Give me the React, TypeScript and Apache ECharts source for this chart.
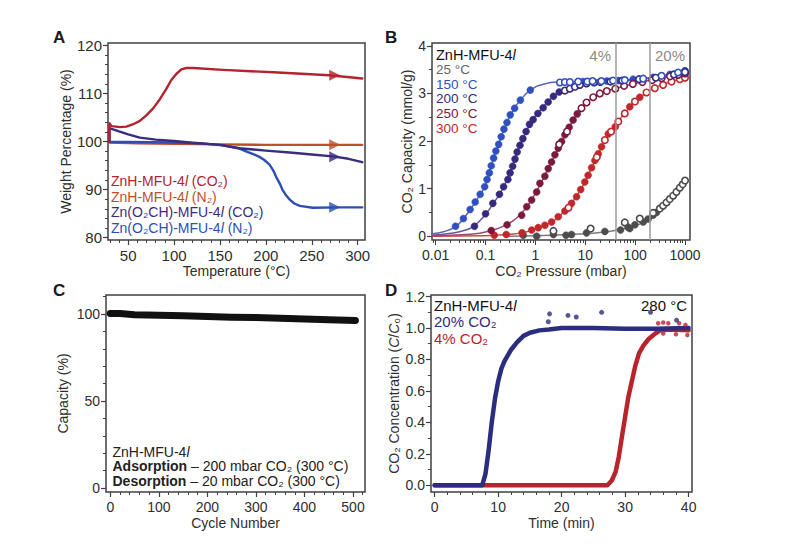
import React, { useEffect, useRef } from "react";
import * as echarts from "echarts";

const FONT = "'Liberation Sans', Arial, Helvetica, sans-serif";
const TXT = "#2e2e2e";
const FRAME = "#404040";

// ---------- Panel A : TGA ----------
const A_X_TICKS = [50, 100, 150, 200, 250, 300];
const A_Y_TICKS = [80, 90, 100, 110, 120];
const A_RED = [[29.5, 100], [29.5, 103.8], [32, 103.2], [41, 103], [48, 103.1], [55.5, 103.6], [62.7, 104.3], [70, 105.5], [77.2, 106.9], [84.5, 108.8], [91.7, 111], [97, 112.8], [102.6, 114.1], [108, 115], [113.4, 115.3], [121, 115.3], [153, 114.9], [208, 114.4], [269, 113.8], [305, 113.1]];
const A_ORANGE = [[29.5, 99.8], [60, 99.6], [100, 99.5], [150, 99.4], [200, 99.3], [305, 99.3]];
const A_PURPLE = [[29.5, 100], [29.5, 102.8], [40, 102.1], [50, 101.5], [62.7, 100.8], [80, 100.4], [100, 100.1], [117, 99.8], [150, 99.3], [171, 98.6], [200, 98.1], [226, 97.7], [250, 97.3], [273, 96.9], [290, 96.4], [305, 95.7]];
const A_BLUE = [[29.5, 102.3], [29.5, 99.9], [50, 99.9], [100, 99.8], [130, 99.6], [153, 99.2], [170, 98.6], [179, 97.9], [187, 97.3], [193, 96.8], [198, 96.2], [204, 95.2], [208, 94], [211, 92.7], [215, 91.3], [218, 90], [222, 88.8], [226, 87.9], [231, 87.1], [237, 86.6], [251, 86.2], [280, 86.3], [305, 86.3]];
const A_ARROWS = [[275, 113.8], [275, 99.3], [275, 96.85], [275, 86.3]];

// ---------- Panel B : isotherms ----------
const B_X_LABELS = ["0.01", "0.1", "1", "10", "100", "1000"];
const B_Y_TICKS = [0, 1, 2, 3, 4];
const B_VLINES = [40, 200];
const B_P25_FILLED = [[0.57, 0.02], [1.06, 0.0], [2.3, 0.035], [4.1, 0.02], [5.3, 0.035], [10.6, 0.07], [24.7, 0.1], [51, 0.13], [72, 0.19], [78, 0.16], [99, 0.24], [145, 0.3], [182, 0.36], [229, 0.44], [268, 0.5]];
const B_P25_OPEN = [[2.3, 0.11], [12.8, 0.16], [62, 0.29], [124, 0.37], [229, 0.49], [313, 0.58], [364, 0.64], [426, 0.71], [496, 0.78], [578, 0.85], [674, 0.93], [787, 1.02], [900, 1.09], [1000, 1.17]];
const B_25_FIT = [[0.3, 0.0], [1, 0.01], [10, 0.05], [30, 0.1], [60, 0.16], [100, 0.22], [200, 0.37], [400, 0.66], [700, 0.95], [1000, 1.17]];
const B_P150_FILLED = [[0.025, 0.21], [0.036, 0.37], [0.049, 0.56], [0.062, 0.72], [0.078, 0.88], [0.096, 1.04], [0.107, 1.19], [0.119, 1.33], [0.13, 1.48], [0.145, 1.64], [0.161, 1.79], [0.183, 1.93], [0.206, 2.09], [0.234, 2.25], [0.269, 2.39], [0.313, 2.55], [0.383, 2.69], [0.5, 2.86], [0.79, 3.07], [9, 3.25], [27, 3.26], [46, 3.27], [91, 3.3], [229, 3.34], [500, 3.4], [1000, 3.48]];
const B_P150_OPEN = [[3.1, 3.23], [3.9, 3.24], [4.9, 3.24], [7.2, 3.25], [11, 3.25], [14, 3.26], [21, 3.26], [36, 3.27], [62, 3.28], [145, 3.31], [338, 3.37], [727, 3.44]];
const B_150_FIT = [[0.0085, 0.05], [0.015, 0.1], [0.025, 0.2], [0.036, 0.37], [0.05, 0.57], [0.07, 0.8], [0.1, 1.08], [0.13, 1.48], [0.16, 1.78], [0.2, 2.05], [0.27, 2.4], [0.38, 2.69], [0.5, 2.86], [0.8, 3.07], [1.5, 3.2], [3, 3.24], [10, 3.25], [30, 3.27], [100, 3.3], [300, 3.36], [1000, 3.48]];
const B_P200_FILLED = [[0.06, 0.21], [0.1, 0.47], [0.14, 0.69], [0.19, 0.88], [0.23, 1.04], [0.28, 1.19], [0.31, 1.33], [0.35, 1.47], [0.39, 1.62], [0.43, 1.77], [0.49, 1.91], [0.56, 2.05], [0.65, 2.2], [0.76, 2.35], [0.9, 2.45], [1.12, 2.58], [1.43, 2.7], [1.8, 2.82], [2.3, 2.94], [3.0, 3.03]];
const B_P200_OPEN = [[3.9, 3.06], [4.9, 3.1], [6.2, 3.14], [7.8, 3.18], [10.6, 3.21], [15, 3.23], [20, 3.24], [32, 3.25], [55, 3.27], [120, 3.3], [260, 3.33], [600, 3.4], [1000, 3.45]];
const B_200_FIT = [[0.0085, 0.02], [0.02, 0.06], [0.04, 0.13], [0.06, 0.22], [0.1, 0.46], [0.15, 0.72], [0.2, 0.92], [0.3, 1.3], [0.43, 1.77], [0.6, 2.12], [0.9, 2.46], [1.4, 2.7], [2.3, 2.94], [4, 3.07], [8, 3.18], [20, 3.24], [100, 3.29], [400, 3.36], [1000, 3.45]];
const B_P250_FILLED = [[0.13, 0.12], [0.27, 0.24], [0.53, 0.44], [0.67, 0.62], [0.84, 0.76], [1.06, 0.93], [1.23, 1.11], [1.55, 1.26], [1.81, 1.42], [2.11, 1.56], [2.46, 1.71], [2.87, 1.85], [3.35, 1.99], [3.9, 2.13], [4.75, 2.29], [5.7, 2.44], [6.9, 2.57]];
const B_P250_OPEN = [[3.0, 1.93], [4.3, 2.2], [8.4, 2.69], [10.6, 2.81], [14.4, 2.92], [19.6, 3.0], [27, 3.05], [40, 3.1], [60, 3.16], [90, 3.2], [140, 3.24], [220, 3.28], [340, 3.32], [500, 3.36], [730, 3.39], [1000, 3.42]];
const B_250_FIT = [[0.0085, 0.01], [0.05, 0.04], [0.13, 0.12], [0.27, 0.25], [0.5, 0.46], [0.84, 0.77], [1.2, 1.05], [1.8, 1.42], [2.5, 1.72], [3.5, 2.02], [5, 2.33], [7, 2.58], [10, 2.78], [15, 2.93], [25, 3.04], [50, 3.13], [100, 3.21], [300, 3.31], [1000, 3.42]];
const B_P300_FILLED = [[0.15, 0.02], [0.26, 0.035], [0.54, 0.07], [0.84, 0.13], [1.14, 0.18], [1.55, 0.23], [2.11, 0.3], [2.87, 0.41], [3.9, 0.53], [5.3, 0.69], [6.7, 0.83], [8.1, 0.98], [9.8, 1.14], [11.4, 1.28], [13.4, 1.44], [15.6, 1.59], [18.2, 1.73], [21.2, 1.88], [29, 2.15], [40, 2.3], [78, 2.72], [124, 2.92]];
const B_P300_OPEN = [[4.6, 0.6], [17, 1.66], [24.7, 2.02], [33, 2.2], [46, 2.41], [62, 2.58], [99, 2.83], [169, 3.02], [248, 3.11], [364, 3.18], [537, 3.25], [787, 3.3], [1000, 3.33]];
const B_300_FIT = [[0.0085, 0.0], [0.1, 0.01], [0.3, 0.04], [0.6, 0.08], [1, 0.15], [2, 0.28], [3, 0.42], [5, 0.66], [8, 0.97], [12, 1.33], [18, 1.72], [25, 2.02], [40, 2.33], [60, 2.57], [100, 2.83], [170, 3.02], [300, 3.16], [550, 3.25], [1000, 3.33]];

// ---------- Panel C : cycling ----------
const C_X_TICKS = [0, 100, 200, 300, 400, 500];
const C_Y_TICKS = [0, 50, 100];
const C_CAPACITY = [[0, 100.4], [20, 100.3], [50, 99.7], [100, 99.3], [150, 99.0], [200, 98.6], [250, 98.2], [300, 98.0], [350, 97.6], [400, 97.2], [450, 96.8], [505, 96.4]];

// ---------- Panel D : breakthrough ----------
const D_X_TICKS = [0, 10, 20, 30, 40];
const D_Y_TICKS = [0, 0.2, 0.4, 0.6, 0.8, 1.0, 1.2];
const D_Y_LABELS = ["0.0", "0.2", "0.4", "0.6", "0.8", "1.0", "1.2"];
const D_CO2_20 = [[0, 0], [7.5, 0], [8, 0.07], [8.5, 0.22], [9, 0.4], [9.5, 0.55], [10, 0.66], [10.5, 0.74], [11, 0.79], [12, 0.86], [13, 0.91], [14, 0.95], [15, 0.97], [16.5, 0.985], [18, 0.99], [20, 1.0], [25, 1.0], [30, 0.995], [35, 0.995], [40, 1.0]];
const D_CO2_4 = [[0, 0], [27.2, 0], [27.9, 0.03], [28.5, 0.085], [29, 0.18], [29.5, 0.31], [30, 0.435], [30.5, 0.56], [31.1, 0.67], [31.6, 0.76], [32.2, 0.84], [32.9, 0.89], [33.7, 0.93], [34.8, 0.966], [35.5, 0.985], [37, 0.99], [40, 0.985]];
const D_CO2_20_OUT = [[17.9, 1.04], [18.1, 1.09], [21, 1.08], [22.3, 1.07], [26.3, 1.1], [34, 1.1], [38.1, 1.05]];
const D_CO2_4_OUT = [[35.2, 1.03], [36, 1.035], [36.8, 1.03], [38.5, 1.03], [39.5, 1.02], [36, 0.965], [38, 0.96], [39.8, 0.955]];

// colors
const A_RED_C = "#b4232e", A_ORANGE_C = "#bf4e2b", A_PURPLE_C = "#3b2c7e", A_BLUE_C = "#2c4fb4";
const G25 = "#4d4d4d", C150 = "#3150c0", C200 = "#36297e", C250 = "#7a1a3e", C300 = "#c0282c";
const D_NAVY = "#2b2d7e", D_RED = "#b8242c";

// axis ranges (frame)
const A_X = [28, 308], A_Y = [79.5, 120.5];
const B_X = [0.00843, 1260], B_Y = [-0.08, 4.06];
const C_X = [-8.8, 524.7], C_Y = [-2.3, 111];
const D_X = [-0.57, 40.53], D_Y = [-0.043, 1.21];

function steps(from: number, to: number, step: number, skip: number[]) {
  const out: number[] = [];
  for (let v = from; v <= to + 1e-9; v += step) {
    const r = Math.round(v * 1000) / 1000;
    if (!skip.some((s) => Math.abs(s - r) < 1e-9)) out.push(r);
  }
  return out;
}

const tickStyle = { color: FRAME, width: 1.2 };

function mainAxis(grid: number, pos: string, range: number[], ticks: number[], name: any, nameGap: number, fmt?: any, rich?: any, labelSize = 14) {
  return {
    type: "value", gridIndex: grid, position: pos, min: range[0], max: range[1],
    splitLine: { show: false },
    axisLine: { show: false, onZero: false },
    axisTick: { show: true, inside: false, length: 5, customValues: ticks, lineStyle: tickStyle },
    axisLabel: { show: true, customValues: ticks, margin: pos === "bottom" ? 8 : 6, color: TXT, fontSize: labelSize, fontFamily: FONT, formatter: fmt },
    name, nameLocation: "middle", nameGap,
    nameTextStyle: { color: TXT, fontSize: 14, fontFamily: FONT, rich },
  };
}
function helperAxis(grid: number, pos: string, range: number[], ticks: number[], len: number) {
  return {
    type: "value", gridIndex: grid, position: pos, min: range[0], max: range[1],
    splitLine: { show: false },
    axisLine: { show: false, onZero: false },
    axisTick: { show: true, inside: false, length: len, customValues: ticks, lineStyle: { color: FRAME, width: 1 } },
    axisLabel: { show: false },
  };
}

const L10 = (v: number) => Math.log10(v);
const B_MAJOR_LOG = [-2, -1, 0, 1, 2, 3];
const B_MINOR_LOG: number[] = [];
for (let d = -3; d <= 3; d++) for (let k = 2; k <= 9; k++) {
  const v = k * Math.pow(10, d);
  if (v > B_X[0] && v < B_X[1]) B_MINOR_LOG.push(L10(v));
}

const xAxes: any[] = [
  // A: 0,1
  mainAxis(0, "bottom", A_X, A_X_TICKS, "Temperature (°C)", 24, undefined, undefined, 15),
  helperAxis(0, "bottom", A_X, steps(30, 300, 10, A_X_TICKS), 3),
  // B: 2 (log main), 3 (major ticks), 4 (minor ticks)
  {
    type: "log", logBase: 10, gridIndex: 1, position: "bottom", min: B_X[0], max: B_X[1],
    splitLine: { show: false }, axisLine: { show: false, onZero: false }, axisTick: { show: false },
    axisLabel: {
      showMinLabel: false, showMaxLabel: false, margin: 8, color: TXT, fontSize: 14, fontFamily: FONT,
      formatter: (v: number) => { const e = Math.log10(v); const r = Math.round(e); return Math.abs(e - r) < 1e-6 ? (B_X_LABELS[r + 2] ?? "") : ""; },
    },
    name: "CO₂ Pressure (mbar)", nameLocation: "middle", nameGap: 24,
    nameTextStyle: { color: TXT, fontSize: 14, fontFamily: FONT },
  },
  helperAxis(1, "bottom", [L10(B_X[0]), L10(B_X[1])], B_MAJOR_LOG, 5),
  helperAxis(1, "bottom", [L10(B_X[0]), L10(B_X[1])], B_MINOR_LOG, 3),
  // C: 5,6
  mainAxis(2, "bottom", C_X, C_X_TICKS, "Cycle Number", 24),
  helperAxis(2, "bottom", C_X, steps(20, 520, 20, C_X_TICKS), 3),
  // D: 7,8
  mainAxis(3, "bottom", D_X, D_X_TICKS, "Time (min)", 24),
  helperAxis(3, "bottom", D_X, steps(2, 40, 2, D_X_TICKS), 3),
];

const yAxes: any[] = [
  // A: 0,1
  mainAxis(0, "left", A_Y, A_Y_TICKS, "Weight Percentage (%)", 35, undefined, undefined, 15),
  helperAxis(0, "left", A_Y, steps(80, 120, 2, A_Y_TICKS), 3),
  // B: 2,3
  mainAxis(1, "left", B_Y, B_Y_TICKS, "CO₂ Capacity (mmol/g)", 18),
  helperAxis(1, "left", B_Y, [0.5, 1.5, 2.5, 3.5], 3),
  // C: 4,5
  mainAxis(2, "left", C_Y, C_Y_TICKS, "Capacity (%)", 36),
  helperAxis(2, "left", C_Y, steps(10, 110, 10, C_Y_TICKS), 3),
  // D: 6,7
  mainAxis(3, "left", D_Y, D_Y_TICKS, "CO₂ Concentration ({i|C}/{i|C}₀)", 30,
    (v: number) => { const i = D_Y_TICKS.findIndex((t) => Math.abs(t - v) < 1e-9); return i >= 0 ? D_Y_LABELS[i] : ""; },
    { i: { fontStyle: "italic", fontSize: 14, fontFamily: FONT, color: TXT } }),
  helperAxis(3, "left", D_Y, [0.1, 0.3, 0.5, 0.7, 0.9, 1.1], 3),
];

const lineS = (x: number, y: number, data: number[][], color: string, width: number, extra: any = {}) => ({
  type: "line", xAxisIndex: x, yAxisIndex: y, data, showSymbol: false, symbol: "none",
  lineStyle: { color, width, cap: "round", join: "round" }, itemStyle: { color }, z: 2, silent: true, ...extra,
});
const filledS = (data: number[][], color: string) => ({
  type: "scatter", xAxisIndex: 2, yAxisIndex: 2, data, symbol: "circle", symbolSize: 7,
  itemStyle: { color, borderColor: color, borderWidth: 0.5, opacity: 1 }, z: 3, silent: true,
});
const openS = (data: number[][], color: string) => ({
  type: "scatter", xAxisIndex: 2, yAxisIndex: 2, data, symbol: "circle", symbolSize: 6.5,
  itemStyle: { color: "#ffffff", borderColor: color, borderWidth: 1.6, opacity: 1 }, z: 4, silent: true,
});

const series: any[] = [
  // A
  lineS(0, 0, A_ORANGE, A_ORANGE_C, 2.4),
  lineS(0, 0, A_BLUE, A_BLUE_C, 2.4),
  lineS(0, 0, A_PURPLE, A_PURPLE_C, 2.4),
  lineS(0, 0, A_RED, A_RED_C, 2.4),
  {
    type: "scatter", xAxisIndex: 0, yAxisIndex: 0, symbol: "triangle", symbolSize: [11, 11], symbolRotate: -90, z: 5, silent: true,
    data: [
      { value: A_ARROWS[0], itemStyle: { color: A_RED_C } },
      { value: A_ARROWS[1], itemStyle: { color: A_ORANGE_C } },
      { value: A_ARROWS[2], itemStyle: { color: A_PURPLE_C } },
      { value: A_ARROWS[3], itemStyle: { color: A_BLUE_C } },
    ],
  },
  // B fits
  lineS(2, 2, B_25_FIT, "#7c7c7c", 1.5, {
    smooth: true,
    markLine: {
      silent: true, symbol: "none", label: { show: false },
      lineStyle: { color: "#9b9b9b", width: 1.5, type: "solid" },
      data: B_VLINES.map((v) => ({ xAxis: v })),
    },
  }),
  lineS(2, 2, B_300_FIT, "#c94a4a", 1.5, { smooth: true }),
  lineS(2, 2, B_250_FIT, "#9c4a6c", 1.5, { smooth: true }),
  lineS(2, 2, B_200_FIT, "#6c5399", 1.5, { smooth: true }),
  lineS(2, 2, B_150_FIT, "#5d62b8", 1.5, { smooth: true }),
  // B markers
  filledS(B_P25_FILLED, G25), openS(B_P25_OPEN, G25),
  filledS(B_P300_FILLED, C300), openS(B_P300_OPEN, C300),
  filledS(B_P250_FILLED, C250), openS(B_P250_OPEN, C250),
  filledS(B_P200_FILLED, C200), openS(B_P200_OPEN, C200),
  filledS(B_P150_FILLED, C150), openS(B_P150_OPEN, C150),
  // C
  lineS(5, 4, C_CAPACITY, "#111111", 7),
  // D
  lineS(7, 6, D_CO2_4, D_RED, 4.5),
  lineS(7, 6, D_CO2_20, D_NAVY, 4.5),
  { type: "scatter", xAxisIndex: 7, yAxisIndex: 6, data: D_CO2_4_OUT, symbolSize: 4.5, itemStyle: { color: D_RED }, z: 3, silent: true },
  { type: "scatter", xAxisIndex: 7, yAxisIndex: 6, data: D_CO2_20_OUT, symbolSize: 5, itemStyle: { color: D_NAVY }, z: 3, silent: true },
];

const txt = (x: number, y: number, text: string, fill: string, size: number, extra: any = {}) => ({
  type: "text", x, y, silent: true, z: 100,
  style: {
    text, fill, fontSize: size, fontFamily: FONT, align: "left", textAlign: "left",
    verticalAlign: "middle", textVerticalAlign: "middle", ...extra,
  },
});
const italicRich = (fill: string, size: number, lh?: number) => ({ i: { fontStyle: "italic", fill, fontSize: size, fontFamily: FONT, lineHeight: lh } });

const B_FS = 13.5;
const B_LH = 14.8;
const graphics: any[] = [
  // panel letters
  txt(53, 37, "A", "#1a1a1a", 17, { fontWeight: "bold" }),
  txt(385, 37, "B", "#1a1a1a", 17, { fontWeight: "bold" }),
  txt(53, 290, "C", "#1a1a1a", 17, { fontWeight: "bold" }),
  txt(385, 290, "D", "#1a1a1a", 17, { fontWeight: "bold" }),
  // A legend
  txt(111, 181, "ZnH-MFU-4{i|l} (CO₂)", A_RED_C, 14, { rich: italicRich(A_RED_C, 14) }),
  txt(111, 196.5, "ZnH-MFU-4{i|l} (N₂)", A_ORANGE_C, 14, { rich: italicRich(A_ORANGE_C, 14) }),
  txt(111, 212, "Zn(O₂CH)-MFU-4{i|l} (CO₂)", A_PURPLE_C, 14, { rich: italicRich(A_PURPLE_C, 14) }),
  txt(111, 227.5, "Zn(O₂CH)-MFU-4{i|l} (N₂)", A_BLUE_C, 14, { rich: italicRich(A_BLUE_C, 14) }),
  // B annotations
  txt(436, 54.5, "ZnH-MFU-4{i|l}", "#111111", 14.5, { lineHeight: 14, rich: italicRich("#111111", 14.5, 14) }),
  txt(436, 54.5 + B_LH, "25 °C", "#666666", B_FS, { lineHeight: 13.5 }),
  txt(436, 54.5 + 2 * B_LH, "150 °C", C150, B_FS, { lineHeight: 13.5 }),
  txt(436, 54.5 + 3 * B_LH, "200 °C", C200, B_FS, { lineHeight: 13.5 }),
  txt(436, 54.5 + 4 * B_LH, "250 °C", C250, B_FS, { lineHeight: 13.5 }),
  txt(436, 54.5 + 5 * B_LH, "300 °C", C300, B_FS, { lineHeight: 13.5 }),
  txt(611, 55, "4%", "#8a8a8a", 15, { align: "right", textAlign: "right" }),
  txt(685, 55, "20%", "#8a8a8a", 15, { align: "right", textAlign: "right" }),
  // C annotations
  txt(112.5, 451.5, "ZnH-MFU-4{i|l}", "#222222", 14, { lineHeight: 14, rich: italicRich("#222222", 14, 14) }),
  txt(112.5, 466, "{b|Adsorption} – 200 mbar CO₂ (300 °C)", "#222222", 14, { lineHeight: 14, rich: { b: { fontWeight: "bold", fill: "#222222", fontSize: 14, fontFamily: FONT, lineHeight: 14 } } }),
  txt(112.5, 480.5, "{b|Desorption} – 20 mbar CO₂ (300 °C)", "#222222", 14, { lineHeight: 14, rich: { b: { fontWeight: "bold", fill: "#222222", fontSize: 14, fontFamily: FONT, lineHeight: 14 } } }),
  // D annotations
  txt(434, 305, "ZnH-MFU-4{i|l}", "#111111", 15, { rich: italicRich("#111111", 15) }),
  txt(434, 321.5, "20% CO₂", D_NAVY, 15),
  txt(434, 338, "4% CO₂", D_RED, 15),
  txt(687, 305, "280 °C", "#111111", 15, { align: "right", textAlign: "right" }),
];

const gridBase = { show: true, borderColor: FRAME, borderWidth: 1.5, backgroundColor: "transparent", containLabel: false };

const option: any = {
  animation: false,
  backgroundColor: "#ffffff",
  textStyle: { fontFamily: FONT },
  grid: [
    { ...gridBase, left: 108, top: 43, width: 257, height: 197 },
    { ...gridBase, left: 432, top: 43, width: 258, height: 197 },
    { ...gridBase, left: 106, top: 295, width: 259, height: 197 },
    { ...gridBase, left: 431, top: 295, width: 261, height: 197 },
  ],
  xAxis: xAxes,
  yAxis: yAxes,
  series,
  graphic: { elements: graphics },
};

export default function App() {
  const ref = useRef<HTMLDivElement>(null);
  useEffect(() => {
    if (!ref.current) return;
    const chart = echarts.init(ref.current, null, { renderer: "svg" });
    chart.setOption(option);
    return () => chart.dispose();
  }, []);
  return (
    <div
      ref={ref}
      style={{ position: "absolute", left: 0, top: 0, width: 789, height: 556, background: "#ffffff" }}
    />
  );
}
